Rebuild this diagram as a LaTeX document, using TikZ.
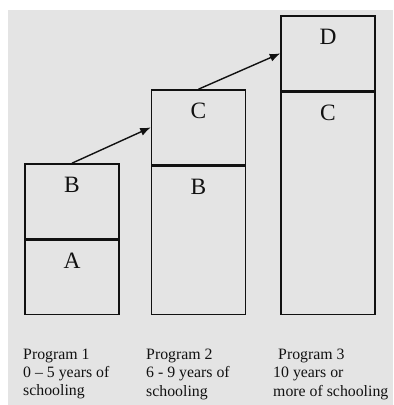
\documentclass[tikz,border=0pt]{standalone}
\usepackage{fontspec}
\setmainfont{Liberation Serif}
\usepackage{tikz}
\usetikzlibrary{
  arrows.meta,
  positioning, calc
}
\definecolor{paperbg} {HTML}{E4E4E4}
\definecolor{inkdark} {HTML}{111111}
\tikzset{
  stackpart/.style={
    rectangle, minimum width=2.82cm, minimum height=#1,
    inner sep=0pt, draw=inkdark, line width=1.2pt
  },
  partletter/.style={
    inner sep=0pt, font=\fontsize{20}{22}\selectfont, text=inkdark
  },
  proglabel/.style={
    align=left, anchor=north west, inner sep=0pt,
    font=\fontsize{13.5}{15.5}\selectfont, text=inkdark
  },
  stepline/.style={-{Latex[length=9pt,width=7pt]}, line width=1.2pt, color=inkdark}
}

\begin{document}
\begin{tikzpicture}[x=0.03cm, y=-0.03cm]
  \fill[white] (0,0) rectangle (393,405);
  \fill[paperbg] (8,10) rectangle (393,405);
  \useasboundingbox (0,0) rectangle (393,405);

  \node[stackpart=2.22cm, anchor=south] (onea) at (72,315) {};
  \node[stackpart=2.25cm, above=0pt of onea] (oneb) {};
  \node[stackpart=4.44cm, anchor=south] (twob) at (198.5,315) {};
  \node[stackpart=2.25cm, above=0pt of twob] (twoc) {};
  \node[stackpart=6.66cm, anchor=south] (threec) at (328,315) {};
  \node[stackpart=2.25cm, above=0pt of threec] (threed) {};

  \node[partletter, below=0.4cm of onea.north] (lonea) {A};
  \node[partletter, below=0.4cm of oneb.north] (loneb) {B};
  \node[partletter, below=0.4cm of twob.north] (ltwob) {B};
  \node[partletter, below=0.4cm of twoc.north] (ltwoc) {C};
  \node[partletter, below=0.4cm of threec.north] (lthreec) {C};
  \node[partletter, below=0.4cm of threed.north] (lthreed) {D};

  \foreach \a/\b in {oneb/twoc, twoc/threed}{
    \draw[stepline] (\a.north) -- (\b.west);
  }

  \node[proglabel] (progone) at (23,349)
    {Program 1\\0 -- 5 years of\\schooling};
  \node[proglabel] (progtwo) at (146,349)
    {Program 2\\6 - 9 years of\\schooling};
  \node[proglabel] (progthree) at (273,349)
    {\hspace*{0.15cm}Program 3\\10 years or\\more of schooling};

\end{tikzpicture}
\end{document}
